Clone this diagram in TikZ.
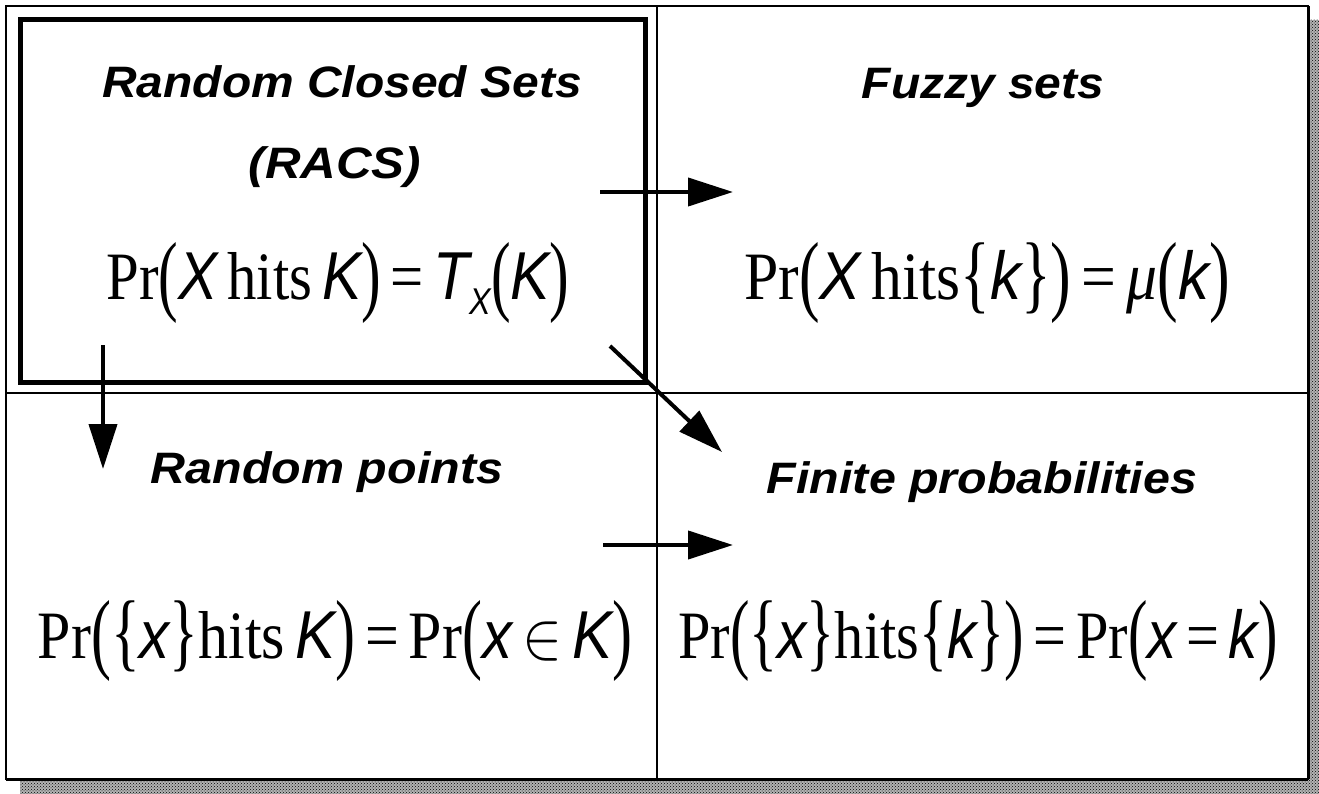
\documentclass[tikz,border=0pt]{standalone}
\usepackage{fontspec}
\usepackage{graphicx}
\setmainfont{Liberation Serif}
\newfontfamily\hvfont{Liberation Sans}
\usetikzlibrary{arrows.meta,patterns}
\newcommand\Vr[1]{{\hvfont\itshape #1}}
\newcommand\LPar{\raisebox{-0.06em}{\scalebox{1}[1.32]{(}}}
\newcommand\RPar{\raisebox{-0.06em}{\scalebox{1}[1.32]{)}}}
\newcommand\LBr{\raisebox{-0.04em}{\scalebox{1}[1.27]{\{}}}
\newcommand\RBr{\raisebox{-0.04em}{\scalebox{1}[1.27]{\}}}}
\newcommand\SubX{\raisebox{-0.22em}{\fontsize{5.5pt}{6pt}\selectfont\Vr{X}}}
\tikzset{
  head/.style={inner sep=0pt, anchor=base, font=\fontsize{44pt}{52pt}\hvfont\bfseries\itshape},
  formula/.style={inner sep=0pt, anchor=base, font=\fontsize{10pt}{12pt}\selectfont},
  arr/.style={line width=4pt, -{Triangle[length=45pt,width=28pt]}},
  thin frame/.style={line width=2.2pt},
}
\begin{document}
\begin{tikzpicture}[x=1pt,y=-1pt]
\useasboundingbox (0,0) rectangle (1319,794);
% shadow
\fill[gray!60] (20,20) rectangle (1319,794);
\fill[pattern=crosshatch dots, pattern color=black] (20,20) rectangle (1319,794);
\fill[white] (6,6) rectangle (1308,779);
% frame and dividers
\draw[thin frame] (6,6) rectangle (1308,779);
\draw[line width=3pt] (6,779) -- (1308,779);
\draw[line width=3pt] (1308,6) -- (1308,779);
\draw[thin frame] (657,6) -- (657,779);
\draw[thin frame] (6,393) -- (1308,393);
% RACS box
\draw[line width=5pt] (20,20) rectangle (645,382);

% headings
\node[head] (racs1) at (342,98) {\scalebox{1.09}[1]{Random Closed Sets}};
\node[head] (racs2) at (335,179) {\scalebox{1.12}[1]{(RACS)}};
\node[head] (fuzzy) at (983,99) {\scalebox{1.09}[1]{Fuzzy sets}};
\node[head] (rpts) at (327,483) {\scalebox{1.1}[1]{Random points}};
\node[head] (fprob) at (982,493) {\scalebox{1.1}[1]{Finite probabilities}};

% formulas
\node[formula] (f1) at (338,300) {\resizebox{463pt}{58pt}{Pr\LPar\Vr{X}\,hits\,\Vr{K}\RPar\,=\,\Vr{T}\SubX\LPar\Vr{K}\RPar}};
\node[formula] (f2) at (987,300) {\resizebox{485pt}{58pt}{Pr\LPar\Vr{X}\,hits\LBr\Vr{k}\RBr\RPar\,=\,{\itshape μ}\LPar\Vr{k}\RPar}};
\node[formula] (f3) at (335,658) {\resizebox{594pt}{58pt}{Pr\LPar\LBr\Vr{x}\RBr hits\,\Vr{K}\RPar\,=\,Pr\LPar\Vr{x}\,$\in$\,\Vr{K}\RPar}};
\node[formula] (f4) at (978,658) {\resizebox{599pt}{58pt}{Pr\LPar\LBr\Vr{x}\RBr hits\LBr\Vr{k}\RBr\RPar\,=\,Pr\LPar\Vr{x}\,=\,\Vr{k}\RPar}};

% arrow end points
\coordinate (a1s) at (600,192);
\coordinate (a1e) at (733,192);
\coordinate (a2s) at (610,346);
\coordinate (a2e) at (722,452);
\coordinate (a3s) at (103,345);
\coordinate (a3e) at (103,469);
\coordinate (a4s) at (603,545);
\coordinate (a4e) at (733,545);
\draw[arr] (a1s) -- (a1e);
\draw[arr] (a2s) -- (a2e);
\draw[arr] (a3s) -- (a3e);
\draw[arr] (a4s) -- (a4e);
\end{tikzpicture}
\end{document}
